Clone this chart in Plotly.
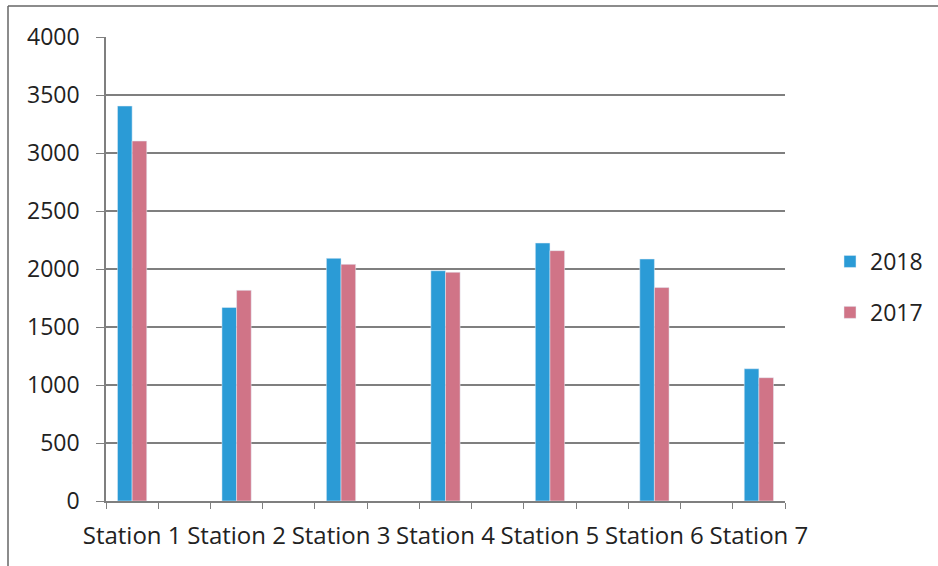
import plotly.graph_objects as go

stations = ["Station 1", "Station 2", "Station 3", "Station 4", "Station 5", "Station 6", "Station 7"]
values_2018 = [3405, 1668, 2092, 1985, 2224, 2086, 1140]
values_2017 = [3103, 1816, 2040, 1972, 2158, 1840, 1063]
y_ticks = [0, 500, 1000, 1500, 2000, 2500, 3000, 3500, 4000]

# Excel-style layout: an empty category between each station
cats = []
v18 = []
v17 = []
for i, s in enumerate(stations):
    cats.append(s)
    v18.append(values_2018[i])
    v17.append(values_2017[i])
    if i < len(stations) - 1:
        cats.append(" " * (i + 1))
        v18.append(None)
        v17.append(None)

BLUE = "#2b9bd6"
PINK = "#d07487"
GRID = "#7f7f7f"
FAM = "Open Sans, sans-serif"
FONT = dict(family=FAM, size=23, color="#222222")

fig = go.Figure()
fig.add_bar(x=cats, y=v18, name="2018", marker_color=BLUE, legendgroup="a")
fig.add_bar(x=cats, y=v17, name="2017", marker_color=PINK, legendgroup="b")

L, R, T, B = 106, 153, 37, 65
W, H = 938, 566
pw, ph = W - L - R, H - T - B
bx = (8 - L) / pw
by = 1 + (T - 6) / ph

fig.update_layout(
    width=W, height=H,
    margin=dict(l=L, r=R, t=T, b=B, autoexpand=False),
    paper_bgcolor="white", plot_bgcolor="white",
    barmode="group", bargap=0.44, bargroupgap=0,
    font=FONT,
    showlegend=True,
    legend=dict(xref="container", yref="container", x=830 / W, y=1 - 287 / H,
                xanchor="left", yanchor="middle",
                font=FONT, traceorder="grouped", tracegroupgap=18,
                bgcolor="rgba(0,0,0,0)"),
    xaxis=dict(type="category", categoryorder="array", categoryarray=cats,
               tickson="boundaries", ticks="outside", ticklen=6, tickcolor=GRID,
               showline=True, linecolor=GRID, linewidth=1.5, tickangle=0,
               showgrid=False, tickfont=dict(family=FAM, size=24, color="#222222"),
               ticklabelstandoff=12),
    yaxis=dict(range=[0, 4000], tickmode="array", tickvals=y_ticks,
               ticks="outside", ticklen=8, tickcolor=GRID,
               showline=True, linecolor=GRID, linewidth=1.5,
               showgrid=True, gridcolor=GRID, gridwidth=1.5,
               zeroline=False, tickfont=FONT, ticklabelstandoff=12),
    shapes=[
        dict(type="line", xref="paper", yref="paper", x0=bx, y0=by, x1=1.3, y1=by,
             line=dict(color="#666666", width=1.5)),
        dict(type="line", xref="paper", yref="paper", x0=bx, y0=by, x1=bx, y1=-0.3,
             line=dict(color="#666666", width=1.5)),
    ],
)

fig.write_html("out.html", config={"displayModeBar": False},
               post_script="document.body.style.margin='0';")
